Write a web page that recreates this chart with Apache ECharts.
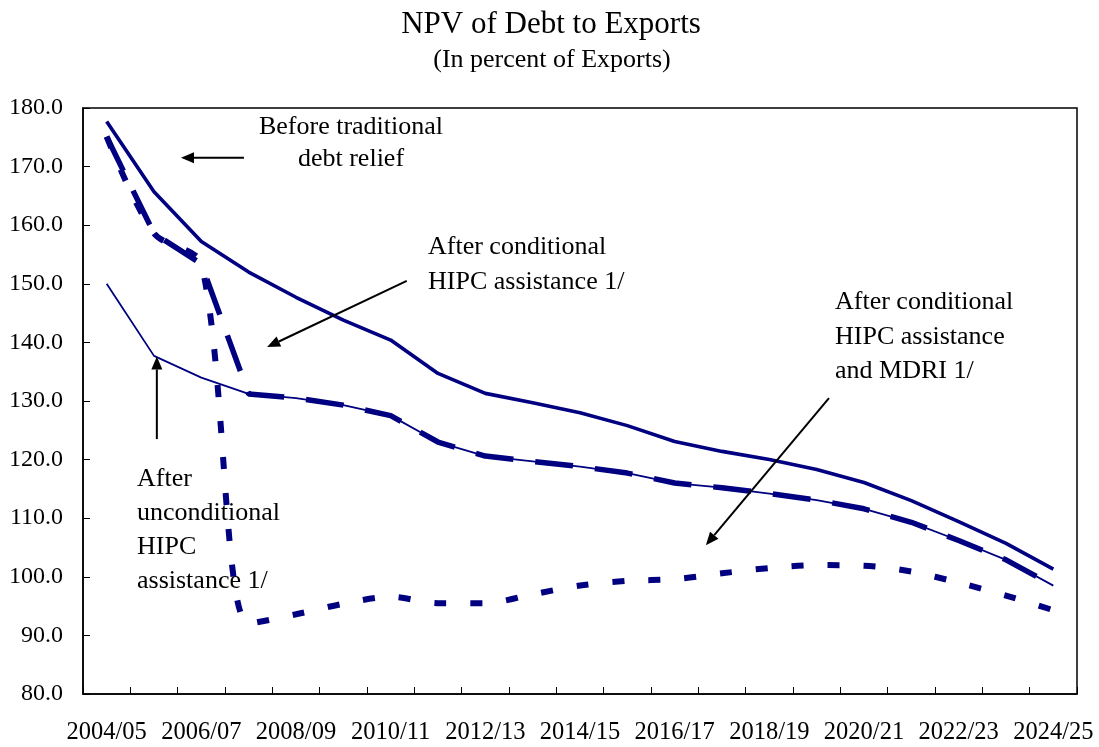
<!DOCTYPE html>
<html><head><meta charset="utf-8">
<script src="https://cdn.jsdelivr.net/npm/echarts@6/dist/echarts.min.js"></script>
<style>html,body{margin:0;padding:0;background:#fff}#c{width:1099px;height:747px}</style>
</head><body><div id="c"></div>
<script>
// ---- data ----
const categories = ['2004/05','2005/06','2006/07','2007/08','2008/09','2009/10','2010/11','2011/12','2012/13','2013/14','2014/15','2015/16','2016/17','2017/18','2018/19','2019/20','2020/21','2021/22','2022/23','2023/24','2024/25'];
const beforeTraditional = [177.7,165.7,157.2,152.0,147.7,143.8,140.4,134.7,131.3,129.7,128.0,125.8,123.1,121.4,120.0,118.3,116.1,113.0,109.4,105.7,101.3];
const afterConditional = [175.1,158.6,153.4,131.2,130.5,129.3,127.5,123.0,120.6,119.7,118.8,117.7,116.0,115.2,114.2,113.1,111.6,109.3,106.2,102.9,98.5];
const afterUnconditional = [150.0,137.7,134.0,131.2,130.5,129.3,127.5,123.0,120.6,119.7,118.8,117.7,116.0,115.2,114.2,113.1,111.6,109.3,106.2,102.9,98.5];
const afterConditionalMDRI = [175.1,158.6,153.4,92.0,93.6,95.4,96.6,95.5,95.5,97.0,98.5,99.3,99.6,100.6,101.5,102.0,101.9,100.9,99.0,96.8,94.3];
const yMin = 80, yMax = 180, yStep = 10;
const titleText = 'NPV of Debt to Exports';
const subtitleText = '(In percent of Exports)';

// annotation arrows in data space: [tailIndex, tailValue, headIndex, headValue]
const arrows = [
  [2.90, 171.5, 1.57, 171.5],
  [6.34, 150.5, 3.39, 139.2],
  [15.26, 130.5, 12.66, 105.4],
  [1.06, 123.5, 1.06, 137.6]
];
const notes = [
  {text:'Before traditional\ndebt relief', x:351, y:111, align:'center', lh:32},
  {text:'After conditional\nHIPC assistance 1/', x:428, y:230, align:'left', lh:35},
  {text:'After conditional\nHIPC assistance\nand MDRI 1/', x:835, y:285, align:'left', lh:34.5},
  {text:'After\nunconditional\nHIPC\nassistance 1/', x:137, y:462, align:'left', lh:34}
];

const FONT = "'Liberation Serif','Times New Roman',serif";
const NAVY = '#000080';
const chart = echarts.init(document.getElementById('c'), null, {renderer:'canvas'});
const option = {
  animation:false,
  backgroundColor:'#fff',
  title:[
    {text:titleText, left:546, top:4, textAlign:'center', textStyle:{fontFamily:FONT, fontSize:31, fontWeight:'normal', color:'#000'}},
    {text:subtitleText, left:547, top:42, textAlign:'center', textStyle:{fontFamily:FONT, fontSize:26, fontWeight:'normal', color:'#000'}}
  ],
  grid:{left:83, right:22, top:108, bottom:53, show:true, borderColor:'#000', borderWidth:1.5, backgroundColor:'transparent'},
  xAxis:{
    type:'category', data:categories, boundaryGap:true,
    axisLine:{lineStyle:{color:'#000', width:1.5}},
    axisTick:{show:true, inside:true, length:7, interval:0, lineStyle:{color:'#000', width:1}},
    axisLabel:{interval:1, margin:26, fontSize:24.5, fontFamily:FONT, color:'#000'},
    splitLine:{show:false}
  },
  yAxis:{
    type:'value', min:yMin, max:yMax, interval:yStep,
    axisLine:{show:true, lineStyle:{color:'#000', width:1.5}},
    axisTick:{show:true, inside:true, length:7, lineStyle:{color:'#000', width:1}},
    axisLabel:{margin:20, fontSize:24, fontFamily:FONT, color:'#000', formatter:v=>v.toFixed(1)},
    splitLine:{show:false}
  },
  series:[
    {name:'After unconditional HIPC assistance', type:'line', data:afterUnconditional, symbol:'none', z:2,
     lineStyle:{color:NAVY, width:1.8}},
    {name:'After conditional HIPC assistance', type:'line', data:afterConditional, symbol:'none', z:3,
     lineStyle:{color:NAVY, width:5.5, type:[38,22]}},
    {name:'After conditional HIPC assistance and MDRI', type:'line', data:afterConditionalMDRI, symbol:'none', z:4, smooth:0.3,
     lineStyle:{color:NAVY, width:6, type:[12,24]}},
    {name:'Before traditional debt relief', type:'line', data:beforeTraditional, symbol:'none', z:5,
     lineStyle:{color:NAVY, width:3.6}}
  ]
};
chart.setOption(option);

// category axis rounds indices, so interpolate between neighbouring categories
function toPx(idx, val){
  const i0 = Math.floor(idx), f = idx - i0;
  const p0 = chart.convertToPixel({gridIndex:0}, [i0, val]);
  const p1 = chart.convertToPixel({gridIndex:0}, [i0+1, val]);
  return [p0[0] + f*(p1[0]-p0[0]), p0[1]];
}
const g = [];
arrows.forEach(a=>{
  const t = toPx(a[0], a[1]);
  const h = toPx(a[2], a[3]);
  const dx = h[0]-t[0], dy = h[1]-t[1];
  const L = Math.hypot(dx, dy), ux = dx/L, uy = dy/L;
  const hl = 13, hw = 5.5;
  const bx = h[0]-ux*hl, by = h[1]-uy*hl;
  g.push({type:'line', shape:{x1:t[0], y1:t[1], x2:bx, y2:by}, style:{stroke:'#000', lineWidth:2}, z:10});
  g.push({type:'polygon', shape:{points:[[h[0],h[1]],[bx-uy*hw, by+ux*hw],[bx+uy*hw, by-ux*hw]]}, style:{fill:'#000'}, z:10});
});
notes.forEach(n=>{
  g.push({type:'text', x:n.x, y:n.y, z:10, style:{text:n.text, fill:'#000', fontSize:26, fontFamily:FONT, align:n.align, verticalAlign:'top', lineHeight:n.lh}});
});
chart.setOption({graphic:g});
</script>
</body></html>
